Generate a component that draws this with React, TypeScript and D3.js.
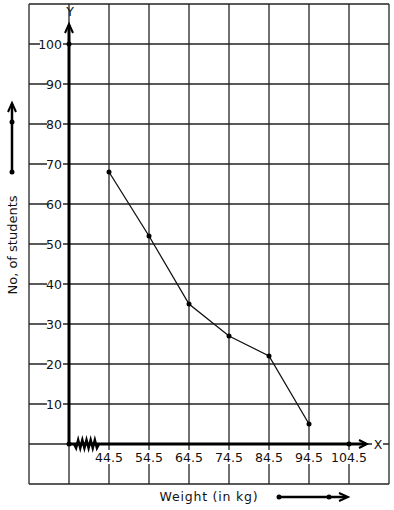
import React from "react";
import * as d3 from "d3";

const weights = [44.5, 54.5, 64.5, 74.5, 84.5, 94.5];
const students = [68, 52, 35, 27, 22, 5];
const xTickLabels = ["44.5", "54.5", "64.5", "74.5", "84.5", "94.5", "104.5"];
const yTickValues = [10, 20, 30, 40, 50, 60, 70, 80, 90, 100];
const xAxisTitle = "Weight (in kg)";
const yAxisTitle = "No, of students";

const W = 394;
const H = 510;

export default function App() {
  // x scale: grid column index units (origin at column 0 = 34.5)
  const x = d3.scaleLinear().domain([34.5, 104.5]).range([69, 349]);
  const y = d3.scaleLinear().domain([0, 100]).range([444, 44]);

  const gridX = d3.range(-1, 9).map((i) => 29 + i * 40 + 40);
  const gridY = d3.range(0, 13).map((i) => 4 + i * 40);

  const line = d3
    .line<number>()
    .x((_, i) => x(weights[i]))
    .y((d) => y(d));

  const ink = "#111";
  const grid = "#222";
  const font = "DejaVu Sans, sans-serif";

  // zigzag path on x-axis
  const zz: [number, number][] = [];
  const zStart = x(34.5) + 5;
  const zEnd = x(44.5) - 10;
  const n = 12;
  for (let i = 0; i <= n; i++) {
    const px = zStart + ((zEnd - zStart) * i) / n;
    const py = y(0) + (i === 0 || i === n ? 0 : i % 2 === 0 ? -4 : 4);
    zz.push([px, py]);
  }
  const zzPath = d3.line()(zz) as string;

  return (
    <svg
      width={W}
      height={H}
      style={{ position: "absolute", left: 0, top: 0, background: "#fff" }}
      fontFamily={font}
    >
      <rect x={0} y={0} width={W} height={H} fill="#fff" />
      {/* grid */}
      {gridX.map((gx, i) => (
        <line key={"gx" + i} x1={gx} x2={gx} y1={4} y2={484} stroke={grid} strokeWidth={1.3} />
      ))}
      {gridY.map((gy, i) => (
        <line key={"gy" + i} x1={29} x2={389} y1={gy} y2={gy} stroke={grid} strokeWidth={1.3} />
      ))}

      {/* y tick labels */}
      {yTickValues.map((v) => (
        <g key={"yt" + v}>
          <rect
            x={v === 100 ? 40 : 47}
            y={y(v) - 7}
            width={v === 100 ? 23 : 16}
            height={14}
            fill="#fff"
          />
          <text x={62} y={y(v)} dy="0.36em" textAnchor="end" fontSize={12.5} fill={ink}>
            {v}
          </text>
        </g>
      ))}

      {/* x tick labels */}
      {xTickLabels.map((t, i) => {
        const cx = x(44.5 + i * 10);
        const w = t.length * 7.2;
        return (
          <g key={"xt" + t}>
            <rect x={cx - w / 2} y={450} width={w} height={14} fill="#fff" />
            <text x={cx} y={457} dy="0.36em" textAnchor="middle" fontSize={12.5} fill={ink}>
              {t}
            </text>
          </g>
        );
      })}

      {/* axes */}
      <line x1={x(34.5)} x2={x(34.5)} y1={y(0)} y2={25} stroke="#000" strokeWidth={3} />
      <path
        d={`M${x(34.5) - 4},${33} L${x(34.5)},${24} L${x(34.5) + 4},${33}`}
        fill="none"
        stroke="#000"
        strokeWidth={2}
      />
      <line x1={x(34.5)} x2={366} y1={y(0)} y2={y(0)} stroke="#000" strokeWidth={3} />
      <path
        d={`M${359},${y(0) - 4} L${367},${y(0)} L${359},${y(0) + 4}`}
        fill="none"
        stroke="#000"
        strokeWidth={2}
      />
      <path d={zzPath} fill="none" stroke="#000" strokeWidth={2.5} />

      {/* axis letters */}
      <rect x={372} y={437} width={11} height={14} fill="#fff" />
      <text x={378} y={y(0)} dy="0.36em" textAnchor="middle" fontSize={12.5} fill={ink}>
        X
      </text>
      <text x={x(34.5) + 1} y={11} dy="0.36em" textAnchor="middle" fontSize={12.5} fill={ink}>
        Y
      </text>

      {/* axis points */}
      <circle cx={x(34.5)} cy={y(0)} r={2.5} fill="#000" />
      <circle cx={x(34.5)} cy={y(100)} r={2.5} fill="#000" />
      <circle cx={x(104.5)} cy={y(0)} r={2.5} fill="#000" />

      {/* data line */}
      <path d={line(students) as string} fill="none" stroke={ink} strokeWidth={1.3} />
      {students.map((s, i) => (
        <circle key={"p" + i} cx={x(weights[i])} cy={y(s)} r={2.5} fill="#000" />
      ))}

      {/* y axis title with arrow */}
      <line x1={12} x2={12} y1={172} y2={104} stroke="#000" strokeWidth={2.5} />
      <path d="M8,112 L12,103 L16,112" fill="none" stroke="#000" strokeWidth={2} />
      <circle cx={12} cy={122} r={2.5} fill="#000" />
      <circle cx={12} cy={172} r={2.5} fill="#000" />
      <text
        transform="translate(17,245) rotate(-90)"
        textAnchor="middle"
        fontSize={13}
        fill={ink}
      >
        {yAxisTitle}
      </text>

      {/* x axis title with arrow */}
      <text x={209} y={501} textAnchor="middle" fontSize={12.5} letterSpacing={0.8} fill={ink}>
        {xAxisTitle}
      </text>
      <line x1={279} x2={346} y1={497} y2={497} stroke="#000" strokeWidth={2.5} />
      <path d="M339,493 L348,497 L339,501" fill="none" stroke="#000" strokeWidth={2} />
      <circle cx={279} cy={497} r={2.5} fill="#000" />
      <circle cx={329} cy={497} r={2.5} fill="#000" />
    </svg>
  );
}
